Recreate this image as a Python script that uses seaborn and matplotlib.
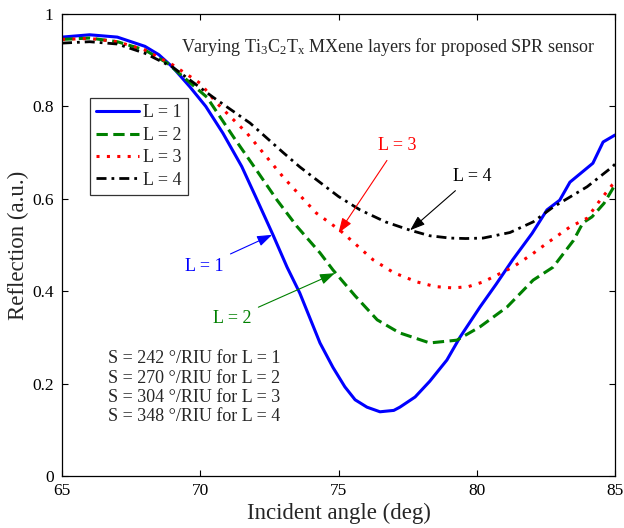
import matplotlib
matplotlib.use("Agg")
import matplotlib.pyplot as plt
import seaborn as sns
import pandas as pd

# ---- data ----
angle_L1 = [65, 66, 67, 68, 68.5, 69, 69.63, 70.2, 70.82, 71.5, 72, 72.63, 73.14, 73.6, 74.33, 74.8,
            75.23, 75.6, 76.03, 76.5, 77.0, 77.22, 77.77, 78.3, 78.92, 79.4, 80.12, 80.7, 81.3, 82.0,
            82.54, 83.0, 83.37, 84.2, 84.57, 85]
refl_L1 = [0.950, 0.955, 0.950, 0.930, 0.912, 0.885, 0.842, 0.800, 0.742, 0.670, 0.605, 0.522, 0.452,
           0.396, 0.288, 0.235, 0.193, 0.165, 0.149, 0.139, 0.142, 0.149, 0.171, 0.205, 0.251, 0.301,
           0.366, 0.415, 0.468, 0.525, 0.576, 0.597, 0.636, 0.677, 0.723, 0.738]

angle_L2 = [65, 66, 67, 68, 68.8, 70.24, 71.2, 72.0, 72.78, 73.5, 74.33, 74.8, 75.6, 76.4, 77.2, 78.3,
            79.28, 80.12, 81.1, 82.04, 82.76, 83.5, 83.84, 84.17, 84.6, 85]
refl_L2 = [0.945, 0.948, 0.940, 0.922, 0.894, 0.820, 0.734, 0.665, 0.597, 0.540, 0.483, 0.446, 0.390,
           0.338, 0.310, 0.288, 0.294, 0.323, 0.366, 0.424, 0.452, 0.510, 0.548, 0.561, 0.590, 0.630]

angle_L3 = [65, 66, 67, 68, 69, 70.0, 70.6, 71.69, 73.0, 73.72, 74.2, 75.05, 76.25, 77.0, 77.84, 78.5,
            79.15, 79.7, 80.23, 81.3, 82.0, 82.54, 83.37, 83.99, 84.46, 84.9, 85]
refl_L3 = [0.945, 0.947, 0.940, 0.922, 0.890, 0.850, 0.807, 0.742, 0.647, 0.600, 0.569, 0.532, 0.468,
           0.440, 0.420, 0.410, 0.407, 0.410, 0.420, 0.452, 0.480, 0.504, 0.539, 0.558, 0.597, 0.630,
           0.635]

angle_L4 = [65, 66, 67, 68, 69, 70.46, 71.8, 73.0, 73.6, 74.08, 75.0, 75.78, 76.7, 77.59, 78.3, 79.03,
            79.6, 80.23, 81.2, 82.04, 82.76, 83.99, 84.9, 85]
refl_L4 = [0.937, 0.940, 0.935, 0.915, 0.885, 0.820, 0.764, 0.700, 0.669, 0.647, 0.605, 0.576, 0.550,
           0.532, 0.520, 0.515, 0.514, 0.515, 0.527, 0.550, 0.582, 0.626, 0.669, 0.675]

series_labels = ["L = 1", "L = 2", "L = 3", "L = 4"]
x_ticks = [65, 70, 75, 80, 85]
y_ticks = [0, 0.2, 0.4, 0.6, 0.8, 1]
y_tick_labels = ["0", "0.2", "0.4", "0.6", "0.8", "1"]
sensitivity_lines = ["S = 242 \u00b0/RIU for L = 1",
                     "S = 270 \u00b0/RIU for L = 2",
                     "S = 304 \u00b0/RIU for L = 3",
                     "S = 348 \u00b0/RIU for L = 4"]
title_text = "Varying Ti$_3$C$_2$T$_x$ MXene layers for proposed SPR sensor"

# ---- style ----
sns.set_style("ticks")
plt.rcParams["font.family"] = ["Liberation Serif", "DejaVu Serif"]
plt.rcParams["mathtext.default"] = "regular"

fig = plt.figure(figsize=(6.24, 5.28), dpi=100)
ax = fig.add_axes([62 / 624, 52 / 528, 553 / 624, 462 / 528])

colors = ["#0000ff", "#008000", "#ff0000", "#000000"]
dashes = [(None, None), (3.7, 1.8), (1, 2.4), (3.6, 1.8, 1, 1.8)]
widths = [2.2, 2.2, 2.2, 2.0]
xs = [angle_L1, angle_L2, angle_L3, angle_L4]
ys = [refl_L1, refl_L2, refl_L3, refl_L4]

for x, y, lab, c, d, w in zip(xs, ys, series_labels, colors, dashes, widths):
    df = pd.DataFrame({"angle": x, "refl": y})
    sns.lineplot(data=df, x="angle", y="refl", ax=ax, color=c, lw=w, label=lab,
                 sort=False, estimator=None)
    l = ax.get_lines()[-1]
    if d[0] is not None:
        l.set_dashes(d)

ax.set_xlim(65, 85)
ax.set_ylim(0, 1)
ax.set_xticks(x_ticks)
ax.set_xticklabels([str(t) for t in x_ticks])
ax.set_yticks(y_ticks)
ax.set_yticklabels(y_tick_labels)
ax.tick_params(direction="in", length=4, width=0.8, top=True, right=True, labelsize=12.5,
               colors="black")
ax.tick_params(axis="y", pad=6)
ax.tick_params(axis="x", pad=5)
for s in ax.spines.values():
    s.set_visible(True)
    s.set_linewidth(0.9)
    s.set_color("black")

ax.set_xlabel("Incident angle (deg)", fontsize=16.5, labelpad=3)
ax.set_ylabel("Reflection (a.u.)", fontsize=16.5, labelpad=2)

leg = ax.legend(loc="upper left", bbox_to_anchor=(0.05, 0.818), fontsize=13, handlelength=2.4,
                frameon=True, fancybox=False, borderpad=0.35, labelspacing=0.3,
                handletextpad=0.2, borderaxespad=0)
leg.get_frame().set_edgecolor("black")
leg.get_frame().set_linewidth(0.9)

ax.text(76.79, 0.929, title_text, ha="center", va="center", fontsize=13)
ax.text(66.66, 0.272, "\n".join(sensitivity_lines), ha="left", va="top", fontsize=13,
        linespacing=1.17, transform=ax.transData)

ann = [("L = 1", (72.6, 0.522), (70.14, 0.4545), colors[0]),
       ("L = 2", (74.87, 0.439), (71.15, 0.34), colors[1]),
       ("L = 3", (75.0, 0.526), (77.12, 0.716), colors[2]),
       ("L = 4", (77.59, 0.532), (79.83, 0.649), colors[3])]
for txt, xy, xyt, c in ann:
    ax.annotate(txt, xy=xy, xytext=xyt, color=c, fontsize=13, ha="center", va="center",
                arrowprops=dict(arrowstyle="-|>,head_length=0.7,head_width=0.25", color=c, lw=0.8,
                                shrinkA=3, shrinkB=0))

fig.savefig("out.png", dpi=100)
